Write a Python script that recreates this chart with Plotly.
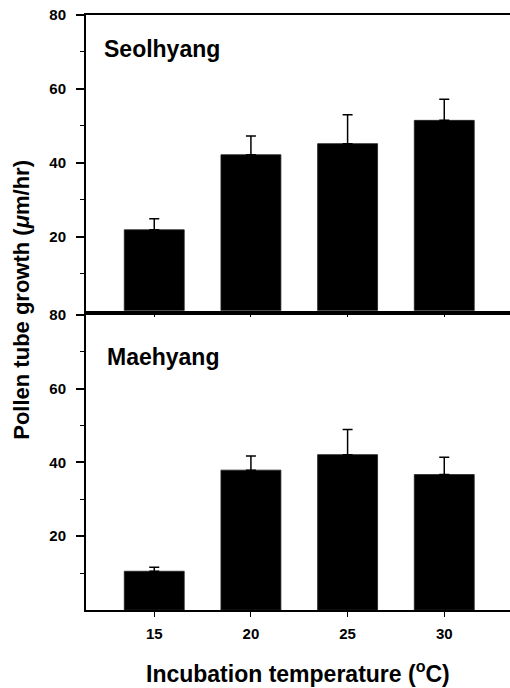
import plotly.graph_objects as go

temps = [15, 20, 25, 30]
tick_labels = ["15", "20", "25", "30"]
seol_mean = [21.9, 42.2, 45.2, 51.5]
seol_err = [3.0, 5.1, 7.8, 5.7]
mae_mean = [10.5, 37.9, 42.1, 36.7]
mae_err = [1.1, 3.8, 6.8, 4.7]
panel_names = ["Seolhyang", "Maehyang"]
y_ticks = [20, 40, 60, 80]
y_minor = [10, 30, 50, 70]

FONT = "Arial, Liberation Sans, sans-serif"
W, H = 510, 688
PLOT_L, PLOT_T, PLOT_B = 86, 15, 610.5   # pixel positions of the plot area
ML = PLOT_L
MT = PLOT_T
MB = H - PLOT_B
MR = 0
PW = W - ML - MR
PH = H - MT - MB

def py(pix):
    return (PLOT_B - pix) / PH

def px(pix):
    return (pix - PLOT_L) / PW

fig = go.Figure()
for mean, err, xa, ya in [(seol_mean, seol_err, "x", "y"), (mae_mean, mae_err, "x2", "y2")]:
    fig.add_trace(go.Bar(
        x=temps, y=mean, width=3.1,
        marker=dict(color="black", line=dict(color="#222", width=0.8)),
        error_y=dict(type="data", array=err, arrayminus=[0] * len(err), symmetric=False,
                     color="black", thickness=1.5, width=5),
        xaxis=xa, yaxis=ya, showlegend=False, hoverinfo="skip",
    ))

xr = [11.47, 33.4]
common_y = dict(range=[0, 80], tickvals=y_ticks, ticks="outside", ticklen=8, tickwidth=1.5,
                tickcolor="black", showline=True, linewidth=2, linecolor="black",
                showgrid=False, zeroline=False, ticklabelstandoff=7,
                tickfont=dict(family=FONT, size=15, color="black", weight="bold"),
                minor=dict(tickvals=y_minor, ticks="outside", ticklen=4, tickwidth=1.2,
                           tickcolor="black"))

fig.update_layout(
    width=W, height=H,
    margin=dict(l=ML, r=MR, t=MT, b=MB),
    plot_bgcolor="white", paper_bgcolor="white",
    xaxis=dict(range=xr, domain=[0, 1], anchor="y", tickvals=temps, showticklabels=False,
               ticks="outside", ticklen=4, tickwidth=1.2, tickcolor="black",
               showline=True, linewidth=2, linecolor="black", mirror=True,
               showgrid=False, zeroline=False),
    yaxis=dict(domain=[py(311), 1], anchor="x", **common_y),
    xaxis2=dict(range=xr, domain=[0, 1], anchor="y2", tickvals=temps, ticktext=tick_labels,
                ticks="outside", ticklen=5, tickwidth=1.2, tickcolor="black",
                showline=True, linewidth=2, linecolor="black", mirror=True,
                showgrid=False, zeroline=False, ticklabelstandoff=4,
                tickfont=dict(family=FONT, size=15, color="black", weight="bold")),
    yaxis2=dict(domain=[0, py(315)], anchor="x2", **common_y),
)

fig.add_annotation(text="<b>" + panel_names[0] + "</b>", xref="paper", yref="paper",
                   x=px(102), y=py(49.5), xanchor="left", yanchor="middle", showarrow=False,
                   font=dict(family=FONT, size=23, color="black"))
fig.add_annotation(text="<b>" + panel_names[1] + "</b>", xref="paper", yref="paper",
                   x=px(105), y=py(357), xanchor="left", yanchor="middle", showarrow=False,
                   font=dict(family=FONT, size=23, color="black"))
fig.add_annotation(text="<b>Pollen tube growth (<i>μ</i>m/hr)</b>", xref="paper", yref="paper",
                   x=px(22), y=py(300), xanchor="center", yanchor="middle", textangle=-90,
                   showarrow=False, font=dict(family=FONT, size=22, color="black"))
fig.add_annotation(text="<b>Incubation temperature (<sup>o</sup>C)</b>", xref="paper", yref="paper",
                   x=px(298), y=py(673), xanchor="center", yanchor="middle",
                   showarrow=False, font=dict(family=FONT, size=23, color="black"))

fig.write_html(
    "out.html",
    config={"displayModeBar": False},
    post_script="document.body.style.margin='0';document.body.style.overflow='hidden';",
)
